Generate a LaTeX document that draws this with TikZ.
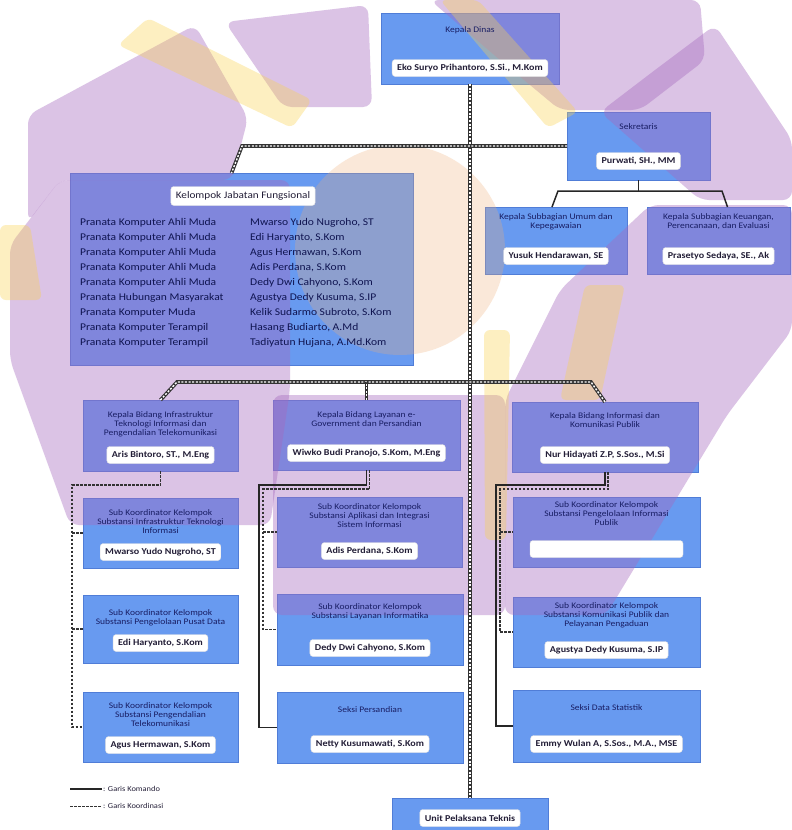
\documentclass[tikz,border=0pt]{standalone}
\usepackage{fontspec}
\setmainfont{Carlito}[FakeStretch=1.12]
\definecolor{boxblue}{RGB}{104,154,240}
\definecolor{boxedge}{RGB}{80,125,215}
\definecolor{navy}{RGB}{25,30,100}
\definecolor{inkc}{RGB}{35,30,55}
\definecolor{listc}{RGB}{15,20,80}
\definecolor{wmpurple}{RGB}{165,105,190}
\definecolor{wmyellow}{RGB}{250,210,80}
\definecolor{wmpeach}{RGB}{240,175,120}
\newcommand\OrgBx[5]{\node[box, minimum width={(#4-#2)*1pt}, minimum height={(#5-#3)*1pt}] (#1) at ({(#2+#4)/2},{(#3+#5)/2}) {};}
\begin{document}
\begin{tikzpicture}[x=1pt,y=-1pt,
  box/.style={draw=boxedge, line width=0.6pt, fill=boxblue, inner sep=0pt, outer sep=0pt},
  ttl/.style={text=navy, align=center, inner sep=0pt, font=\fontsize{8.5}{9}\selectfont},
  pill/.style={fill=white, draw=black!12, rounded corners=3pt, inner xsep=5pt, inner ysep=0pt, minimum height=17pt, text=inkc, font=\fontsize{9}{10}\selectfont\bfseries},
  lst/.style={anchor=west, inner sep=0pt, text=listc, font=\fontsize{10.3}{11}\selectfont},
  lgtxt/.style={anchor=west, inner sep=1pt, text=inkc, font=\fontsize{7.5}{9}\selectfont},
  kom/.style={draw=black!85, line width=1.5pt},
  koor/.style={draw=black!80, line width=1.3pt, dash pattern=on 2.5pt off 1.5pt},
  both/.style={draw=black!80, line width=3.6pt, postaction={draw=white, line width=1.4pt, dash pattern=on 2pt off 1.6pt}},
  wmp/.style={fill=wmpurple, fill opacity=0.4, rounded corners=9pt},
  wmy/.style={fill=wmyellow, fill opacity=0.35, rounded corners=6pt}
]
\useasboundingbox (0,0) rectangle (792,830);
\fill[white] (0,0) rectangle (792,830);

% ---------- boxes ----------
\OrgBx{kadis}{381}{13}{559}{84}
\OrgBx{sekr}{567}{112}{710}{180}
\OrgBx{subum}{485}{207}{627}{274}
\OrgBx{subkeu}{647}{207}{790}{274}
\OrgBx{kjf}{70}{173}{413}{365}
\OrgBx{kb1}{83}{400}{238}{471}
\OrgBx{kb2}{273}{400}{460}{470}
\OrgBx{kb3}{512}{402}{698}{472}
\OrgBx{s11}{83}{498}{238}{568}
\OrgBx{s12}{83}{595}{238}{663}
\OrgBx{s13}{83}{692}{238}{762}
\OrgBx{s21}{277}{497}{462}{567}
\OrgBx{s22}{277}{594}{463}{665}
\OrgBx{s23}{277}{692}{463}{763}
\OrgBx{s31}{513}{497}{700}{567}
\OrgBx{s32}{513}{597}{700}{667}
\OrgBx{s33}{513}{690}{700}{762}
\OrgBx{upt}{392}{798}{548}{840}

% ---------- watermark ----------
\fill[wmpeach, fill opacity=0.28] (400,250) circle (105);
\fill[wmp] (28,115) -- (195,25) -- (248,118) -- (232,180) -- (60,180) -- (28,222) -- cycle;
\fill[wmp] (10,245) -- (60,180) -- (290,180) -- (290,390) -- (270,525) -- (70,525) -- (10,360) -- cycle;
\fill[wmp] (225,22) -- (368,5) -- (372,107) -- (283,107) -- cycle;
\fill[wmp] (430,0) -- (700,0) -- (705,60) -- (640,110) -- (560,110) -- (500,60) -- cycle;
\fill[wmp] (655,70) -- (715,25) -- (792,140) -- (792,200) -- (700,200) -- (600,112) -- cycle;
\fill[wmp] (650,205) -- (792,205) -- (792,330) -- (727,415) -- (606,615) -- (505,615) -- (505,400) -- (560,290) -- cycle;
\fill[wmp] (273,395) -- (505,395) -- (505,615) -- (273,615) -- cycle;
\fill[wmy] (118,45) -- (148,18) -- (312,100) -- (292,128) -- cycle;
\fill[wmy] (440,0) -- (478,0) -- (578,112) -- (548,128) -- cycle;
\fill[wmy] (484,330) -- (510,330) -- (506,540) -- (485,540) -- cycle;
\fill[wmy] (585,285) -- (625,285) -- (600,400) -- (560,400) -- cycle;
\fill[wmy] (0,225) -- (30,225) -- (42,300) -- (0,300) -- cycle;

% ---------- connectors ----------
\coordinate (hb) at (0,382);
\coordinate (c1) at (72,485);
\coordinate (c2) at (259,485);
\coordinate (c2d) at (263,489);
\coordinate (c3) at (496,485);
\coordinate (c3d) at (500,489);
\coordinate (sj) at (0,191);

\draw[both] (kadis.south) -- (upt.north);
\draw[both] (sekr.west) -- (242,146) -- ([xshift=-10pt]kjf.north);
\draw[kom] (sekr.south) -- (sekr.south |- sj);
\draw[kom] ([xshift=-4pt]subum.north) -- (558,191) -- (722,191) -- ([xshift=9pt]subkeu.north);
\draw[both] (kb1.north) -- (177,382) -- (591,382) -- (kb3.north);
\draw[both] (kb2.north) -- (kb2.north |- hb);

\draw[koor] (kb1.south) -- (kb1.south |- c1) -- (c1) -- (c1 |- s13.west) -- (s13.west);
\draw[koor] (c1 |- s11.west) -- (s11.west);
\draw[koor] (c1 |- s12.west) -- (s12.west);

\draw[kom] (kb2.south) -- (kb2.south |- c2) -- (c2) -- (c2 |- s23.west) -- (s23.west);
\draw[koor] ([xshift=3pt]kb2.south) -- ([xshift=3pt]kb2.south |- c2d) -- (c2d) -- (c2d |- s22.west) -- (s22.west);
\draw[koor] (c2d |- s21.west) -- (s21.west);

\draw[kom] (kb3.south) -- (kb3.south |- c3) -- (c3) -- (c3 |- s33.west) -- (s33.west);
\draw[koor] ([xshift=3pt]kb3.south) -- ([xshift=3pt]kb3.south |- c3d) -- (c3d) -- (c3d |- s32.west) -- (s32.west);
\draw[koor] (c3d |- s31.west) -- (s31.west);

% ---------- texts ----------
\node[ttl] (kadis-t) at (470,30) {Kepala Dinas};
\node[pill] (kadis-n) at (470,68) {Eko Suryo Prihantoro, S.Si., M.Kom};

\node[ttl] (sekr-t) at (638.5,127) {Sekretaris};
\node[pill] (sekr-n) at (638.5,161) {Purwati, SH., MM};

\node[ttl] (subum-t) at (556,222) {Kepala Subbagian Umum dan\\Kepegawaian};
\node[pill] (subum-n) at (556,256) {Yusuk Hendarawan, SE};
\node[ttl] (subkeu-t) at (718.5,222) {Kepala Subbagian Keuangan,\\Perencanaan, dan Evaluasi};
\node[pill] (subkeu-n) at (718.5,256) {Prasetyo Sedaya, SE., Ak};

\node[pill, font=\fontsize{10}{11}\selectfont, minimum height=19pt] (kjf-t) at (243,196) {Kelompok Jabatan Fungsional};
\foreach \i/\t in {0/Pranata Komputer Ahli Muda,1/Pranata Komputer Ahli Muda,2/Pranata Komputer Ahli Muda,3/Pranata Komputer Ahli Muda,4/Pranata Komputer Ahli Muda,5/Pranata Hubungan Masyarakat,6/Pranata Komputer Muda,7/Pranata Komputer Terampil,8/Pranata Komputer Terampil}
  \node[lst] (kjfl\i) at (80,{223+15*\i}) {\t};
\foreach \i/\t in {0/{Mwarso Yudo Nugroho, ST},1/{Edi Haryanto, S.Kom},2/{Agus Hermawan, S.Kom},3/{Adis Perdana, S.Kom},4/{Dedy Dwi Cahyono, S.Kom},5/{Agustya Dedy Kusuma, S.IP},6/{Kelik Sudarmo Subroto, S.Kom},7/{Hasang Budiarto, A.Md},8/{Tadiyatun Hujana, A.Md.Kom}}
  \node[lst] (kjfr\i) at (250,{223+15*\i}) {\t};

\node[ttl] (kb1-t) at (160.5,424) {Kepala Bidang Infrastruktur\\Teknologi Informasi dan\\Pengendalian Telekomunikasi};
\node[pill] (kb1-n) at (160.5,455) {Aris Bintoro, ST., M.Eng};
\node[ttl] (kb2-t) at (366.5,419) {Kepala Bidang Layanan e-\\Government dan Persandian};
\node[pill] (kb2-n) at (366.5,453) {Wiwko Budi Pranojo, S.Kom, M.Eng};
\node[ttl] (kb3-t) at (605,420) {Kepala Bidang Informasi dan\\Komunikasi Publik};
\node[pill] (kb3-n) at (605,455) {Nur Hidayati Z.P, S.Sos., M.Si};

\node[ttl] (s11-t) at (160.5,522) {Sub Koordinator Kelompok\\Substansi Infrastruktur Teknologi\\Informasi};
\node[pill] (s11-n) at (160.5,552) {Mwarso Yudo Nugroho, ST};
\node[ttl] (s12-t) at (160.5,618) {Sub Koordinator Kelompok\\Substansi Pengelolaan Pusat Data};
\node[pill] (s12-n) at (160.5,643) {Edi Haryanto, S.Kom};
\node[ttl] (s13-t) at (160.5,715) {Sub Koordinator Kelompok\\Substansi Pengendalian\\Telekomunikasi};
\node[pill] (s13-n) at (160.5,745) {Agus Hermawan, S.Kom};

\node[ttl] (s21-t) at (369.5,516) {Sub Koordinator Kelompok\\Substansi Aplikasi dan Integrasi\\Sistem Informasi};
\node[pill] (s21-n) at (369.5,551) {Adis Perdana, S.Kom};
\node[ttl] (s22-t) at (370,612) {Sub Koordinator Kelompok\\Substansi Layanan Informatika};
\node[pill] (s22-n) at (370,648) {Dedy Dwi Cahyono, S.Kom};
\node[ttl] (s23-t) at (370,710) {Seksi Persandian};
\node[pill] (s23-n) at (370,744) {Netty Kusumawati, S.Kom};

\node[ttl] (s31-t) at (606.5,514) {Sub Koordinator Kelompok\\Substansi Pengelolaan Informasi\\Publik};
\node[pill, minimum width=153pt] (s31-n) at (606.5,549) {};
\node[ttl] (s32-t) at (606.5,615) {Sub Koordinator Kelompok\\Substansi Komunikasi Publik dan\\Pelayanan Pengaduan};
\node[pill] (s32-n) at (606.5,650) {Agustya Dedy Kusuma, S.IP};
\node[ttl] (s33-t) at (606.5,708) {Seksi Data Statistik};
\node[pill] (s33-n) at (606.5,744) {Emmy Wulan A, S.Sos., M.A., MSE};

\node[pill] (upt-n) at (470,818) {Unit Pelaksana Teknis};

% ---------- legend ----------
\node[lgtxt] (lg1) at (102,789) {: Garis Komando};
\node[lgtxt] (lg2) at (102,806) {: Garis Koordinasi};
\coordinate (lg1s) at (70,789);
\coordinate (lg2s) at (70,806);
\draw[kom, line width=1.2pt] (lg1s) -- (lg1.west);
\draw[koor, line width=1pt] (lg2s) -- (lg2.west);
\end{tikzpicture}
\end{document}
